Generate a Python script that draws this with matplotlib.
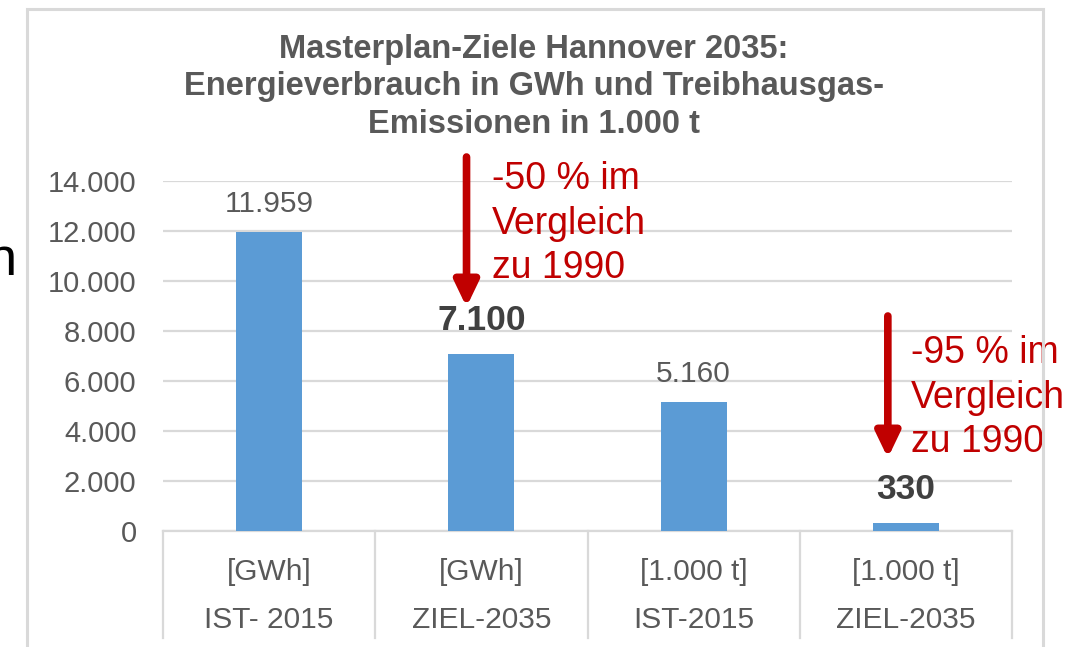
import matplotlib.pyplot as plt
from matplotlib.patches import Rectangle
from matplotlib.ticker import FuncFormatter
import matplotlib.transforms as mtransforms

plt.rcParams['font.family'] = ['Liberation Sans', 'DejaVu Sans']

# data
units = ['[GWh]', '[GWh]', '[1.000 t]', '[1.000 t]']
periods = ['IST- 2015', 'ZIEL-2035', 'IST-2015', 'ZIEL-2035']
values = [11959, 7100, 5160, 330]
highlight = [False, True, False, True]

# annotations: (arrow x, arrow top, arrow tip, text x, last baseline, text)
notes = [
    (0.93, 14960, 8960, 1.05, 10120, '-50 % im\nVergleich\nzu 1990'),
    (2.915, 8600, 2920, 3.025, 3160, '-95 % im\nVergleich\nzu 1990'),
]

def thousands(v, pos=None):
    return f'{int(v):,}'.replace(',', '.')

W, H = 1066, 647
fig = plt.figure(figsize=(W / 100, H / 100), dpi=100)
ax = fig.add_axes([163 / W, 1 - 531 / H, (1012 - 163) / W, 350 / H])

grey = '#595959'
line = '#D9D9D9'
red = '#C00000'

x = range(len(values))
ax.bar(x, values, width=0.31, color='#5B9BD5', zorder=3)
ax.set_xlim(-0.5, len(values) - 0.5)
ax.set_ylim(0, 14000)
ax.set_yticks(range(0, 14001, 2000))
ax.yaxis.set_major_formatter(FuncFormatter(thousands))
ax.tick_params(axis='y', length=0, pad=19, labelsize=21, labelcolor=grey)
ax.set_xticks([])
ax.grid(axis='y', color=line, lw=1.6, zorder=0)
for s in ['top', 'right', 'left']:
    ax.spines[s].set_visible(False)
ax.spines['bottom'].set_color(line)
ax.spines['bottom'].set_linewidth(1.6)

# category separators and two-row labels
trans = mtransforms.blended_transform_factory(ax.transData, ax.transAxes)
for b in [i - 0.5 for i in range(len(values) + 1)]:
    ax.plot([b, b], [0, -0.306], transform=trans, color=line, lw=1.6, clip_on=False)
for i in x:
    ax.text(i, -0.14, units[i], transform=trans, ha='center', va='baseline',
            fontsize=21.5, color=grey)
    ax.text(i, -0.277, periods[i], transform=trans, ha='center', va='baseline',
            fontsize=21.5, color=grey)

# value labels
for i, v in enumerate(values):
    if highlight[i]:
        ax.annotate(thousands(v), (i, v), xytext=(0, 17), textcoords='offset points',
                    ha='center', va='baseline', fontsize=25.5, fontweight='bold',
                    color='#404040')
    else:
        ax.annotate(thousands(v), (i, v), xytext=(0, 14.4), textcoords='offset points',
                    ha='center', va='baseline', fontsize=21.5, color=grey)

# red arrows with notes
for ax_x, top, tip, tx, ty, txt in notes:
    ax.annotate('', xy=(ax_x, tip), xytext=(ax_x, top), annotation_clip=False,
                arrowprops=dict(arrowstyle='-|>,head_length=1.5,head_width=0.72',
                                color=red, lw=5.5, shrinkA=0, shrinkB=0))
    ax.text(tx, ty, txt, ha='left', va='baseline', fontsize=27, color=red,
            linespacing=1.3, clip_on=False)

fig.text(534 / W, 1 - 133 / H,
         'Masterplan-Ziele Hannover 2035:\nEnergieverbrauch in GWh und Treibhausgas-\nEmissionen in 1.000 t',
         ha='center', va='baseline', fontsize=23.5, fontweight='bold', color=grey,
         linespacing=1.28)

# outer chart frame and stray slide text
fig.patches.append(Rectangle((26.5 / W, -0.1), (1042.5 - 26.5) / W, 1.1 - 8.5 / H,
                             transform=fig.transFigure, fill=False,
                             edgecolor=line, lw=2.2))
fig.text(-13.5 / W, 1 - 275 / H, 'n', ha='left', va='baseline', fontsize=39,
         color='black')

fig.savefig('out.png', dpi=100)
